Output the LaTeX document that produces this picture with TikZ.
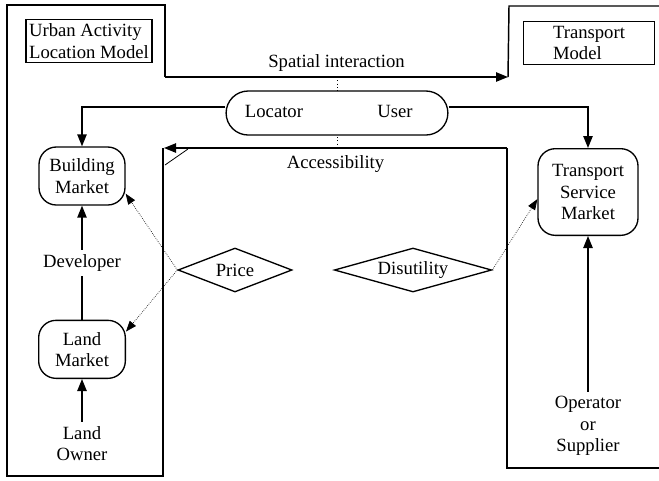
\documentclass[tikz,border=0pt]{standalone}
\usepackage{fontspec}
\setmainfont{Liberation Serif}
\usetikzlibrary{shapes,arrows}
\usetikzlibrary{positioning,arrows.meta,shapes.misc,shapes.geometric}
\tikzset{
     market/.style={rectangle, draw, line width=1pt, rounded corners=13pt,
                    align=center, inner sep=2pt},
     arrow/.style={-{Triangle[length=9pt,width=7pt]}, line width=1.1pt},
     dotarrow/.style={densely dotted, -{Triangle[length=8pt,width=6pt]}, line width=0.5pt}
     }

\begin{document}
\begin{tikzpicture}[x=0.75pt,y=-0.75pt,font=\fontsize{14}{16}\selectfont]
\useasboundingbox (0,0) rectangle (659,480);
\tikzstyle{title} = [rectangle, draw, line width=1pt, align=left, inner sep=2pt]
\tikzstyle{decision} = [diamond, draw, line width=1pt, inner sep=0pt, minimum height=33pt]
\tikzstyle{agent} = [rounded rectangle, draw, line width=1pt, fill=white,
minimum width=173pt, minimum height=33pt]
\tikzstyle{outline} = [draw, line width=1.1pt]

% model boxes
\node [title, minimum width=94.5pt, minimum height=32pt] (UA) at (89,41) {Urban Activity\\Location Model};
\node [title, minimum width=98pt, minimum height=32pt] (TM) at (589,43) {Transport\\Model};

% outlines of the two models
\coordinate (SIs) at (165,77);
\coordinate (SIe) at (508,77);
\coordinate (ACs) at (507,148);
\coordinate (ACe) at (164,148);
\path [outline] (SIs) -- (165,5) -- (7,5) -- (7,476) -- (163,476) -- (163,148);
\path [outline] (SIe) -- (509,6) -- (665,6);
\path [outline] (665,468) -- (507,468) -- (ACs);
\draw [arrow] (SIs) -- node [above] {Spatial interaction} (SIe);
\draw [arrow] (ACs) -- node [below=2pt] {Accessibility} (ACe);
\draw [line width=0.6pt] (165,165) -- (188,149);
\draw [dotted, line width=0.5pt] (337,77) -- (337,148);

% agents
\node [agent] (LU) at (337,113) {};
\node (loc) at (274,111) {Locator};
\node (usr) at (395,111) {User};

% markets
\node [market, minimum width=64.5pt, minimum height=43.5pt] (BM) at (82,176) {Building\\Market};
\node [market, minimum width=65pt, minimum height=43.5pt, below=85.5pt of BM] (LM) {Land\\Market};
\node [align=center, below=32pt of LM] (LO) {Land\\Owner};
\node [market, minimum width=75pt, minimum height=65pt] (TSM) at (588,192) {Transport\\Service\\Market};
\node [align=center] (OS) at (588,426) {Operator\\or\\Supplier};

\node [decision, minimum width=85.5pt, aspect=2.6] (PR) at (235,270) {Price};
\node [decision, minimum width=118pt, aspect=3.6] (DU) at (413,270) {Disutility};

%Lines
\draw [arrow] ([yshift=4.5pt]LU.west) -| (BM.north);
\draw [arrow] ([yshift=4.5pt]LU.east) -| (TSM.north);
\draw [arrow] (LM.north) -- node [fill=white] {Developer} (BM.south);
\draw [arrow] (LO.north) -- (LM.south);
\draw [arrow] (OS.north) -- (TSM.south);

\draw [dotarrow] (PR.west) -- (BM.-22);
\draw [dotarrow] (PR.west) -- (LM.22);
\draw [dotarrow] (DU.east) -- (TSM.188);
\end{tikzpicture}
\end{document}
